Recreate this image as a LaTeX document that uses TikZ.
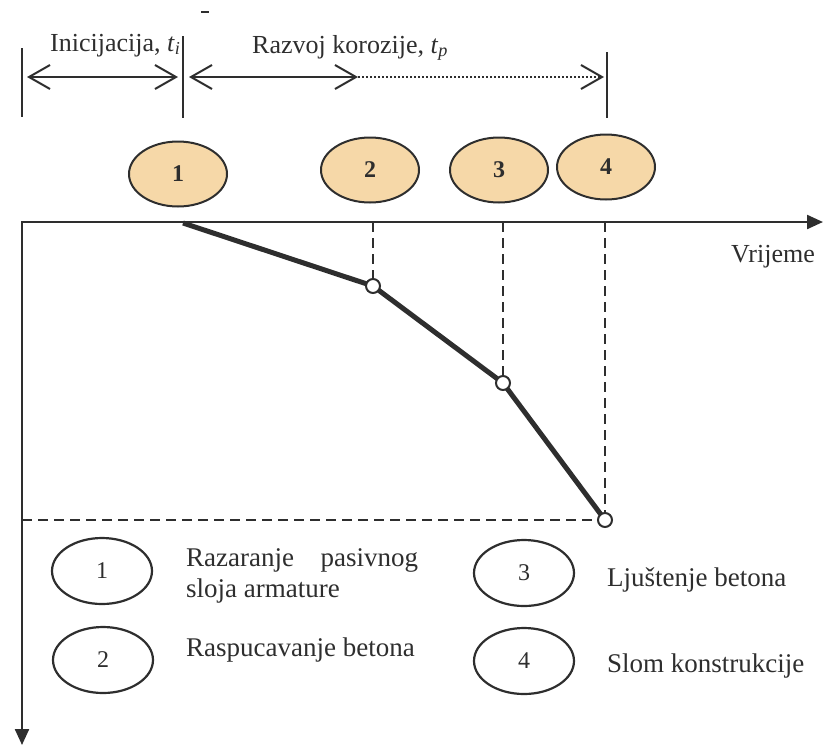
\documentclass[tikz,border=0pt]{standalone}
\usepackage{fontspec}
\setmainfont{Liberation Serif}
\usetikzlibrary{arrows.meta,shapes.geometric}
\definecolor{ink}{HTML}{2E2E2E}
\definecolor{peach}{HTML}{F6D8A8}
\begin{document}
\begin{tikzpicture}[x=1pt,y=-1pt,
  every node/.style={text=ink},
  phase/.style={ellipse, draw=ink, line width=2pt, fill=peach, minimum width=98pt, minimum height=65pt, inner sep=0pt, font=\fontsize{24}{28}\selectfont\bfseries},
  legend/.style={ellipse, draw=ink, line width=2.2pt, fill=white, minimum width=100pt, minimum height=66pt, inner sep=0pt, font=\fontsize{24}{28}\selectfont},
  lbl/.style={anchor=base west, inner sep=0pt, font=\fontsize{27}{31}\selectfont},
  toplbl/.style={anchor=base west, inner sep=0pt, font=\fontsize{26}{30}\selectfont},
  axis/.style={draw=ink, line width=2.3pt},
  guide/.style={draw=ink, line width=2.2pt, dash pattern=on 10pt off 6pt},
  curve/.style={draw=ink, line width=5pt, line join=round},
  pt/.style={circle, draw=ink, line width=2pt, fill=white, minimum size=14pt, inner sep=0pt},
  span/.style={draw=ink, line width=2pt},
  tick/.style={draw=ink, line width=2.5pt},
]
\useasboundingbox (0,0) rectangle (824,745);

% top span bracket
\coordinate (k0t) at (22,48);  \coordinate (k0b) at (22,117);
\coordinate (k1t) at (183,36); \coordinate (k1b) at (183,118);
\coordinate (k2t) at (607,52); \coordinate (k2b) at (607,118);
\draw[tick] (k0t) -- (k0b);
\draw[tick] (k1t) -- (k1b);
\draw[tick] (k2t) -- (k2b);
\coordinate (a0) at (22,77);
\coordinate (a1) at (183,77);
\coordinate (a2) at (358,77);
\coordinate (a3) at (607,77);
\draw[span, {Straight Barb[length=21pt,width=24pt]}-{Straight Barb[length=21pt,width=24pt]}, shorten <=5pt, shorten >=5pt] (a0) -- (a1);
\draw[span, {Straight Barb[length=21pt,width=24pt]}-{Straight Barb[length=21pt,width=24pt]}, shorten <=6pt] (a1) -- (a2);
\draw[span, dotted, line width=1.5pt, -{Straight Barb[length=21pt,width=24pt,line width=2pt]}, shorten >=3pt] (a2) -- (a3);
\coordinate (m0) at (201,12); \coordinate (m1) at (209,12);
\draw[draw=ink, line width=1.5pt] (m0) -- (m1);

\node[toplbl] (ini) at (50,51) {Inicijacija, \textit{t}\textsubscript{\textit{i}}};
\node[toplbl] (raz) at (252,53) {Razvoj korozije, \textit{t}\textsubscript{\textit{p}}};

% phase ellipses
\node[phase] (e1) at (178,174) {1};
\node[phase] (e2) at (370,170) {2};
\node[phase] (e3) at (499,170) {3};
\node[phase] (e4) at (606,167) {4};

% axes
\coordinate (O) at (22,222);
\coordinate (xe) at (823,222);
\coordinate (ye) at (22,745);
\draw[axis, {Triangle[length=16pt,width=14pt]}-{Triangle[length=16pt,width=14pt]}] (ye) -- (O) -- (xe);
\node[anchor=base west, inner sep=0pt, font=\fontsize{26}{30}\selectfont] (vr) at (731,262) {Vrijeme};

% curve points
\coordinate (c1) at (183,223);
\coordinate (p2) at (373,286);
\coordinate (p3) at (503,383);
\coordinate (p4) at (605,520);
\coordinate (q2) at (373,222);
\coordinate (q3) at (503,222);
\coordinate (q4) at (605,222);
\coordinate (h0) at (22,520);
\draw[guide] (q2) -- (p2);
\draw[guide] (q3) -- (p3);
\draw[guide] (q4) -- (p4);
\draw[guide] (h0) -- (p4);
\draw[curve] (c1) -- (p2) -- (p3) -- (p4);
\node[pt] (n2) at (p2) {};
\node[pt] (n3) at (p3) {};
\node[pt] (n4) at (p4) {};

% legend
\node[legend] (g1) at (102,571) {1};
\node[legend] (g2) at (103,660) {2};
\node[legend] (g3) at (524,573) {3};
\node[legend] (g4) at (524,661) {4};
\node[lbl] (t1) at (186,566) {\hbox to 232pt{Razaranje\hfill pasivnog}};
\node[lbl] (t1b) at (186,597) {sloja armature};
\node[lbl] (t2) at (186,656) {Raspucavanje betona};
\node[lbl] (t3) at (607,586) {Ljuštenje betona};
\node[lbl] (t4) at (607,672) {Slom konstrukcije};
\end{tikzpicture}
\end{document}
